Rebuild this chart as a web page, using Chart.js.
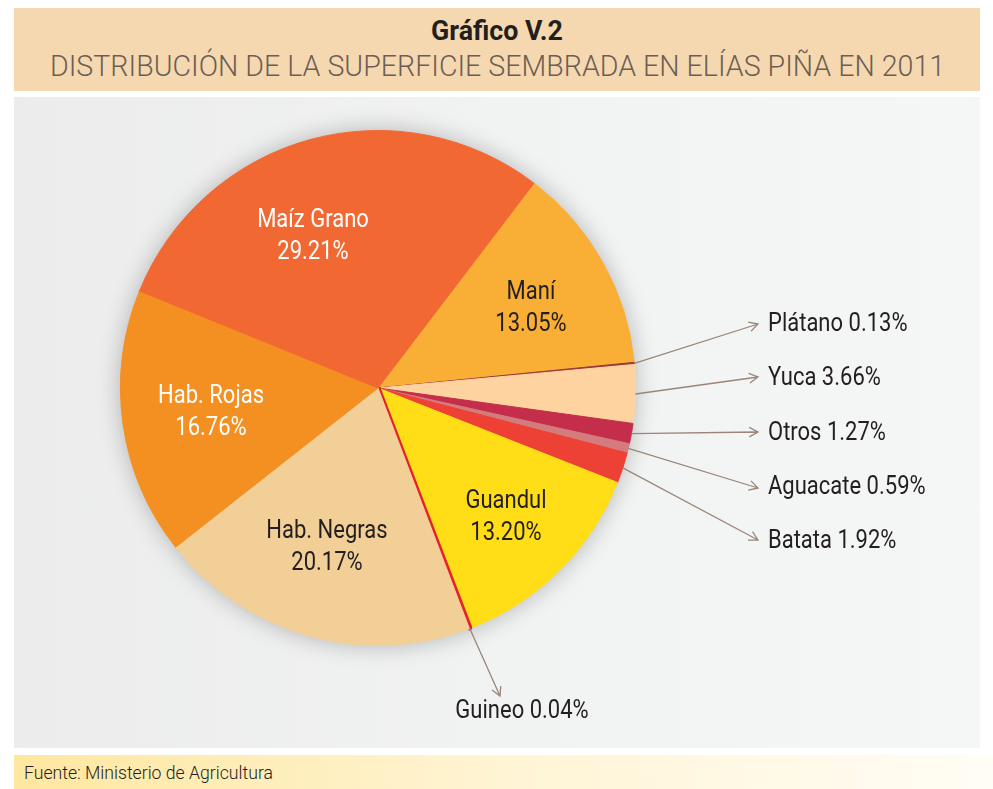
<!DOCTYPE html>
<html>
<head>
<meta charset="utf-8">
<script src="https://cdn.jsdelivr.net/npm/chart.js@4.4.0/dist/chart.umd.min.js"></script>
<style>
  body { margin: 0; width: 993px; height: 789px; background: #fff; position: relative; overflow: hidden;
         font-family: Roboto, "Noto Sans", sans-serif; }
  #head { position: absolute; left: 14px; top: 8px; width: 966px; height: 83px; background: #f6d8b0; }
  .fit { position: absolute; white-space: nowrap; transform-origin: 0 0; }
  #t1 { top: 7px; font-weight: bold; font-size: 27px; color: #231f20; }
  #t2 { top: 41px; font-size: 29px; font-weight: 300; color: #6b5e55; }
  #panel { position: absolute; left: 14px; top: 97px; width: 966px; height: 651px;
           background: linear-gradient(90deg, #ececec 0%, #f1f2f2 50%, #f5f6f6 100%); }
  #foot { position: absolute; left: 14px; top: 755px; width: 979px; height: 34px;
          background: linear-gradient(90deg, #fee79f 0%, #fff4d4 50%, #fffdf6 100%); }
  #f1 { left: 10px; top: 7px; font-size: 18px; font-weight: 300; color: #231f20; }
  canvas { position: absolute; left: 0; top: 0; }
</style>
</head>
<body>
<div id="head">
  <div id="t1" class="fit" data-w="132" data-c="483">Gráfico V.2</div>
  <div id="t2" class="fit" data-w="895" data-c="483">DISTRIBUCIÓN DE LA SUPERFICIE SEMBRADA EN ELÍAS PIÑA EN 2011</div>
</div>
<div id="panel"></div>
<div id="foot"><div id="f1" class="fit" data-w="249">Fuente: Ministerio de Agricultura</div></div>
<canvas id="pie" width="993" height="789"></canvas>
<script>
// datos (orden horario desde Maní)
const cultivos = ["Maní", "Plátano", "Yuca", "Otros", "Aguacate", "Batata", "Guandul", "Guineo", "Hab. Negras", "Hab. Rojas", "Maíz Grano"]
const porcentajes = [13.05, 0.13, 3.66, 1.27, 0.59, 1.92, 13.20, 0.04, 20.17, 16.76, 29.21]
const colores = ["#f9ae35", "#9b3a3a", "#fed39f", "#c42e4b", "#d47b7e", "#ee4136", "#ffdd17", "#e8202a", "#f3cf98", "#f48f22", "#f26833"]

// etiquetas dentro del pastel: [x, y, color] ; fuera: [x final flecha, y, x texto, y texto, alineación]
const etiquetasDentro = {
  "Maní": [531, 309, "#231f20"],
  "Guandul": [506, 518, "#231f20"],
  "Hab. Negras": [327, 548, "#231f20"],
  "Hab. Rojas": [211, 413, "#fff"],
  "Maíz Grano": [313, 237, "#fff"]
}
const etiquetasFuera = {
  "Plátano": [758, 324, 768, 325, "left"],
  "Yuca": [758, 377, 768, 379, "left"],
  "Otros": [758, 432, 768, 434, "left"],
  "Aguacate": [758, 488, 768, 488, "left"],
  "Batata": [758, 540, 768, 542, "left"],
  "Guineo": [500, 696, 522, 712, "center"]
}

// ajustar textos html al ancho del original
document.querySelectorAll('.fit').forEach(el => {
  const w = el.offsetWidth
  const s = +el.dataset.w / w
  if (el.dataset.c) el.style.left = (+el.dataset.c - w * s / 2) + 'px'
  el.style.transform = 'scaleX(' + s + ')'
})

const sombra = {
  id: 'sombra',
  beforeDatasetsDraw(chart) {
    const arc = chart.getDatasetMeta(0).data[0]
    const ctx = chart.ctx
    ctx.save()
    ctx.shadowColor = 'rgba(0,0,0,0.28)'
    ctx.shadowBlur = 24
    ctx.fillStyle = '#eeeeee'
    ctx.beginPath()
    ctx.arc(arc.x, arc.y, arc.outerRadius - 1, 0, Math.PI * 2)
    ctx.fill()
    ctx.restore()
  }
}

function texto(ctx, t, x, y, al) {
  const sx = 0.88
  ctx.save()
  ctx.translate(x, y)
  ctx.scale(sx, 1)
  ctx.textAlign = al
  ctx.fillText(t, 0, 0)
  ctx.restore()
}

const rotulos = {
  id: 'rotulos',
  afterDatasetsDraw(chart) {
    const ctx = chart.ctx
    chart.getDatasetMeta(0).data.forEach((arc, i) => {
      const nombre = cultivos[i]
      const valor = porcentajes[i].toFixed(2) + '%'
      ctx.save()
      ctx.font = '25px Roboto, "Noto Sans", sans-serif'
      ctx.textBaseline = 'middle'
      if (etiquetasDentro[nombre]) {
        const [x, y, c] = etiquetasDentro[nombre]
        ctx.fillStyle = c
        texto(ctx, nombre, x, y - 16, 'center')
        texto(ctx, valor, x, y + 16, 'center')
      } else if (etiquetasFuera[nombre]) {
        const [ex, ey, tx, ty, al] = etiquetasFuera[nombre]
        const a = (arc.startAngle + arc.endAngle) / 2
        const sx = arc.x + Math.cos(a) * arc.outerRadius
        const sy = arc.y + Math.sin(a) * arc.outerRadius
        ctx.strokeStyle = '#9b8579'
        ctx.lineWidth = 1.3
        ctx.beginPath()
        ctx.moveTo(sx, sy)
        ctx.lineTo(ex, ey)
        const ang = Math.atan2(ey - sy, ex - sx)
        const L = 10
        ctx.moveTo(ex - L * Math.cos(ang - 0.5), ey - L * Math.sin(ang - 0.5))
        ctx.lineTo(ex, ey)
        ctx.lineTo(ex - L * Math.cos(ang + 0.5), ey - L * Math.sin(ang + 0.5))
        ctx.stroke()
        ctx.fillStyle = '#231f20'
        texto(ctx, nombre + ' ' + valor, tx, ty, al)
      }
      ctx.restore()
    })
  }
}

new Chart(document.getElementById('pie'), {
  type: 'pie',
  data: {
    labels: cultivos,
    datasets: [{
      data: porcentajes,
      backgroundColor: colores,
      borderColor: colores,
      borderWidth: [1, 1, 1, 1, 1, 1, 1, 5, 1, 1, 1]
    }]
  },
  options: {
    responsive: false,
    animation: false,
    rotation: 37.3,
    layout: { padding: { left: 118, top: 128, right: 355, bottom: 141 } },
    plugins: { legend: { display: false }, tooltip: { enabled: false } }
  },
  plugins: [sombra, rotulos]
})
</script>
</body>
</html>
